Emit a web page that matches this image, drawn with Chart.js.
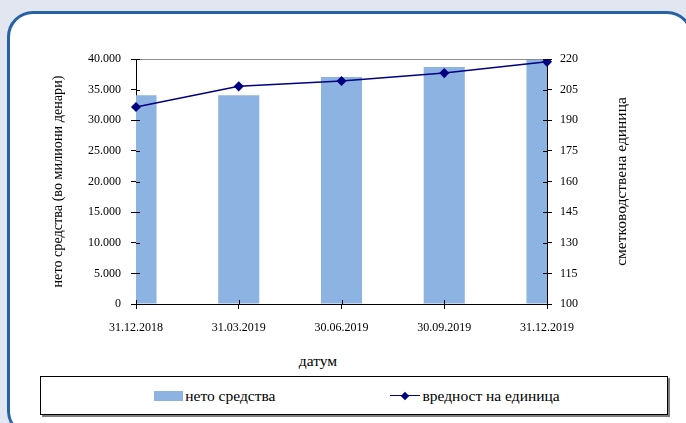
<!DOCTYPE html>
<html>
<head>
<meta charset="utf-8">
<script src="https://cdn.jsdelivr.net/npm/chart.js@4.4.1/dist/chart.umd.min.js"></script>
<style>
body{margin:0;width:686px;height:423px;overflow:hidden;background:#e1e6f0;font-family:"Liberation Serif",serif;position:relative}
.frame{position:absolute;left:7px;top:11px;width:680px;height:420px;border:3px solid #2762a6;border-radius:26px;background:#fff}
#c{position:absolute;left:0;top:0}
.xtitle{position:absolute;left:268px;top:352px;width:100px;text-align:center;font-size:15.5px;color:#000}
.legend{position:absolute;left:40px;top:376px;width:628px;height:39px;box-sizing:border-box;border:1px solid #000;box-shadow:2px 2px 0 #7f7f7f;background:#fff;display:flex;align-items:center;justify-content:center;gap:115px;padding-left:6px;font-size:15.5px;color:#000}
.item{display:flex;align-items:center}
.sw{display:inline-block;width:29px;height:10px;margin-right:2px}
.ln{position:relative;display:inline-block;width:30px;height:10px;margin-right:2px}
.ln::before{content:'';position:absolute;left:0;right:0;top:4px;height:1.5px;background:var(--c)}
.ln::after{content:'';position:absolute;left:12px;top:2px;width:6px;height:6px;background:var(--c);transform:rotate(45deg)}
</style>
</head>
<body>
<div class="frame"></div>
<canvas id="c" width="686" height="345"></canvas>
<div class="xtitle" id="xtitle"></div>
<div class="legend" id="legend"></div>
<script>
// податоци од графиконот
const dates = ['31.12.2018', '31.03.2019', '30.06.2019', '30.09.2019', '31.12.2019'];
const netAssets = [34100, 34100, 37050, 38700, 39850];   // нето средства
const unitValue = [196.5, 206.6, 209.2, 213.1, 218.6];   // вредност на единица
const seriesNames = ['нето средства', 'вредност на единица'];
const leftAxis = {min: 0, max: 40000, step: 5000};
const rightAxis = {min: 100, max: 220, step: 15};
const axisTitles = {x: 'датум', y: 'нето средства (во милиони денари)', y2: 'сметководствена единица'};

const barColor = '#8db3e2';
const lineColor = '#000080';
const family = '"Liberation Serif", serif';
const tickFont = {family: family, size: 12};

// 40000 -> 40.000
function thousands(v) {
    return String(v).replace(/\B(?=(\d{3})+(?!\d))/g, '.');
}

// цртички навнатре + десниот наслов (свртен како левиот)
const axisExtras = {
    id: 'axisExtras',
    afterDraw(chart) {
        const {ctx, chartArea: a, scales} = chart;
        ctx.save();
        ctx.strokeStyle = '#000';
        ctx.lineWidth = 1;
        ctx.beginPath();
        scales.y.ticks.forEach((t, i) => {
            const p = Math.round(scales.y.getPixelForTick(i)) + 0.5;
            ctx.moveTo(a.left, p); ctx.lineTo(a.left + 4, p);
        });
        scales.y2.ticks.forEach((t, i) => {
            const p = Math.round(scales.y2.getPixelForTick(i)) + 0.5;
            ctx.moveTo(a.right, p); ctx.lineTo(a.right - 4, p);
        });
        scales.x.ticks.forEach((t, i) => {
            const p = Math.round(scales.x.getPixelForTick(i)) + 0.5;
            ctx.moveTo(p, a.bottom); ctx.lineTo(p, a.bottom - 4);
        });
        ctx.stroke();

        ctx.translate(scales.y2.right - 18, (a.top + a.bottom) / 2);
        ctx.rotate(-Math.PI / 2);
        ctx.font = '15.5px ' + family;
        ctx.fillStyle = '#000';
        ctx.textAlign = 'center';
        ctx.textBaseline = 'middle';
        ctx.fillText(axisTitles.y2, 0, 0);
        ctx.restore();
    }
};

new Chart(document.getElementById('c'), {
    type: 'bar',
    data: {
        labels: dates,
        datasets: [
            {
                type: 'line',
                label: seriesNames[1],
                data: unitValue,
                yAxisID: 'y2',
                borderColor: lineColor,
                backgroundColor: lineColor,
                borderWidth: 1.5,
                pointStyle: 'rectRot',
                pointRadius: 4,
                pointHoverRadius: 4,
                tension: 0,
                order: 0
            },
            {
                type: 'bar',
                label: seriesNames[0],
                data: netAssets,
                yAxisID: 'y',
                backgroundColor: barColor,
                barPercentage: 0.4,
                categoryPercentage: 1,
                order: 1
            }
        ]
    },
    options: {
        responsive: false,
        animation: false,
        layout: {padding: {left: 40, right: 46, top: 59, bottom: 0}},
        plugins: {legend: {display: false}, tooltip: {enabled: false}},
        scales: {
            x: {
                offset: false,
                grid: {offset: false, drawOnChartArea: false, color: '#000', tickLength: 5},
                border: {color: '#000'},
                ticks: {font: tickFont, color: '#000', padding: 12, maxRotation: 0, autoSkip: false},
                afterFit(s) { s.height = 41; }
            },
            y: {
                position: 'left',
                min: leftAxis.min,
                max: leftAxis.max,
                ticks: {stepSize: leftAxis.step, callback: thousands, font: tickFont, color: '#000', padding: 10},
                grid: {
                    color: ctx => (ctx.tick && ctx.tick.value === leftAxis.max) ? '#8c8c8c' : 'rgba(0,0,0,0)',
                    tickColor: '#000',
                    tickLength: 5
                },
                border: {color: '#000'},
                title: {display: true, text: axisTitles.y, font: {family: family, size: 14.2}, color: '#000', padding: {top: 10, bottom: 0}},
                afterFit(s) { s.width = 96; }
            },
            y2: {
                position: 'right',
                min: rightAxis.min,
                max: rightAxis.max,
                ticks: {stepSize: rightAxis.step, font: tickFont, color: '#000', padding: 8},
                grid: {drawOnChartArea: false, tickColor: '#000', tickLength: 5},
                border: {color: '#000'},
                afterFit(s) { s.width = 93; }
            }
        }
    },
    plugins: [axisExtras]
});

document.getElementById('xtitle').textContent = axisTitles.x;
// легенда
const legend = document.getElementById('legend');
[[seriesNames[0], 'sw', barColor], [seriesNames[1], 'ln', lineColor]].forEach(([name, cls, col]) => {
    const item = document.createElement('span');
    item.className = 'item';
    const mark = document.createElement('span');
    mark.className = cls;
    if (cls === 'sw') mark.style.background = col;
    else mark.style.setProperty('--c', col);
    item.appendChild(mark);
    item.appendChild(document.createTextNode(name));
    legend.appendChild(item);
});
</script>
</body>
</html>
